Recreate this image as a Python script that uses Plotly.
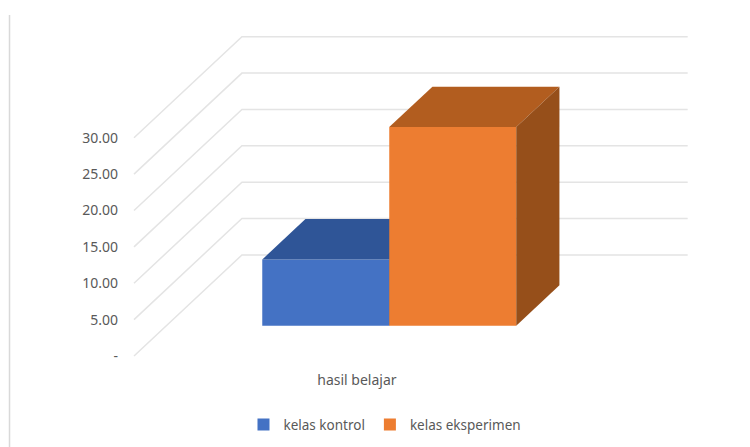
import plotly.graph_objects as go

series_names = ["kelas kontrol", "kelas eksperimen"]
series_values = [9.1, 27.3]
category = "hasil belajar"
tick_values = [0, 5, 10, 15, 20, 25, 30]
tick_labels = ["-", "5.00", "10.00", "15.00", "20.00", "25.00", "30.00"]

front_colors = ["#4472C4", "#ED7D31"]
top_colors = ["#2F5597", "#B25D1F"]
side_colors = ["#264478", "#964F1A"]

FONT = "Noto Sans"
TEXT = "#595959"

# oblique projection: going one full depth back moves the point this far on the axes
DEPTH_X = 0.85
DEPTH_Y = 13.9
FLOOR_W = 3.51
BAR_W = 1.0
BAR_FRONT = 0.3
BAR_BACK = 0.7

X_RANGE = [-0.0945, 4.457]
Y_RANGE = [-1.93, 46.2]


def project(x, y, depth):
	return x + depth * DEPTH_X, y + depth * DEPTH_Y


def face(points):
	xs, ys = zip(*[project(*p) for p in points])
	return list(xs) + [xs[0]], list(ys) + [ys[0]]


fig = go.Figure()

for i, (name, value) in enumerate(zip(series_names, series_values)):
	xaxis = "x" if i == 0 else "x2"
	yaxis = "y" if i == 0 else "y2"
	x0 = (FLOOR_W - 2 * BAR_W) / 2 + i * BAR_W
	x1 = x0 + BAR_W
	bar_x, base = project(x0 + BAR_W / 2, 0, BAR_FRONT)

	fig.add_trace(go.Bar(
		x=[bar_x], y=[value], base=[base], width=[BAR_W],
		name=name, marker=dict(color=front_colors[i], line=dict(width=0)),
		xaxis=xaxis, yaxis=yaxis, hoverinfo="skip"
	))

	top_x, top_y = face([(x0, value, BAR_FRONT), (x1, value, BAR_FRONT), (x1, value, BAR_BACK), (x0, value, BAR_BACK)])
	side_x, side_y = face([(x1, 0, BAR_FRONT), (x1, value, BAR_FRONT), (x1, value, BAR_BACK), (x1, 0, BAR_BACK)])

	for fx, fy, color in [(top_x, top_y, top_colors[i]), (side_x, side_y, side_colors[i])]:
		fig.add_trace(go.Scatter(
			x=fx, y=fy, mode="lines", fill="toself", fillcolor=color,
			line=dict(width=0, color=color), showlegend=False,
			xaxis=xaxis, yaxis=yaxis, hoverinfo="skip"
		))

# walls go below the traces as shapes
for v in tick_values:
	bx, by = project(0, v, 1)
	ex, ey = project(FLOOR_W, v, 1)
	fig.add_shape(
		type="path", path=f"M 0,{v} L {bx},{by} L {ex},{ey}",
		line=dict(color="#E4E4E4", width=1.5), layer="below"
	)

# stray left border of the picture
fig.add_shape(
	type="line", xref="paper", yref="paper",
	x0=-0.1946, x1=-0.1946, y0=-0.22, y1=1.014,
	line=dict(color="#D9D9D9", width=1.5), layer="below"
)

label_x, _ = project(FLOOR_W / 2, 0, 0)

# the page body adds 8px, so the figure is 8px smaller and the margins shifted
fig.update_layout(
	width=742, height=439,
	margin=dict(l=114, r=50, t=12, b=77, autoexpand=False),
	paper_bgcolor="white", plot_bgcolor="white",
	font=dict(family=FONT, size=14, color=TEXT),
	barmode="overlay",
	legend=dict(
		orientation="h", x=0.455, xanchor="center", y=-0.156, yanchor="middle",
		font=dict(family=FONT, size=13.5, color=TEXT), itemwidth=30
	),
	xaxis=dict(
		range=X_RANGE, tickvals=[label_x], ticktext=[category],
		showgrid=False, zeroline=False, showline=False, ticks=""
	),
	yaxis=dict(
		range=Y_RANGE, tickvals=tick_values, ticktext=tick_labels,
		showgrid=False, zeroline=False, showline=False, ticks="",
		ticklabelstandoff=3
	),
	xaxis2=dict(range=X_RANGE, overlaying="x", visible=False),
	yaxis2=dict(range=Y_RANGE, overlaying="y", visible=False)
)

fig.write_html("out.html")
